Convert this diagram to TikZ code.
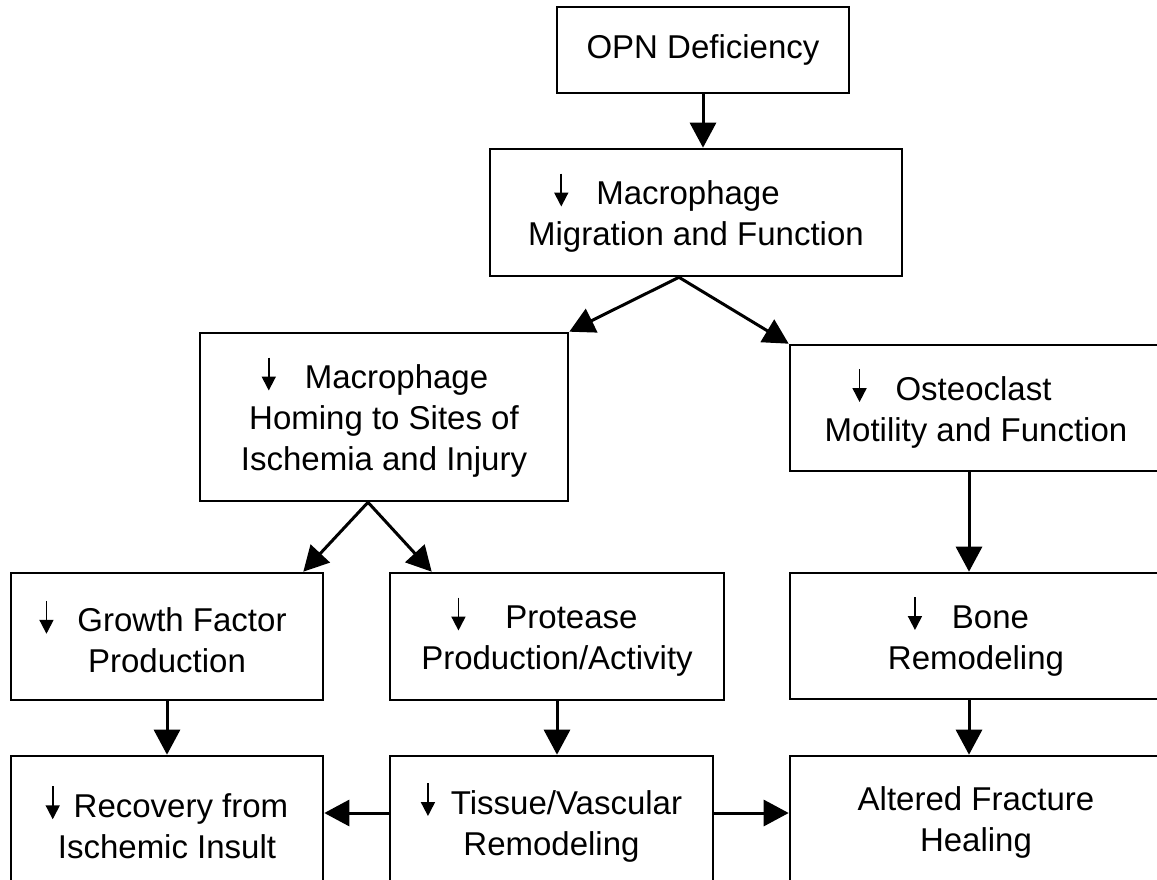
\documentclass[tikz,border=0pt]{standalone}
\usepackage{fontspec}
\setmainfont{Liberation Sans}
\usetikzlibrary{arrows.meta, positioning}
\tikzset{
	% flow chart styles
	box/.style ={rectangle, draw=black, line width=2.6pt, align=center, inner sep=0pt, font=\fontsize{33}{41}\selectfont},
	flow/.style={-{Triangle[length=25pt,width=26pt]}, line width=3pt},
}
\newcommand{\dnarr}{\tikz[baseline=0pt]\draw[line width=1.8pt,-{Triangle[length=14pt,width=14pt]}] (0pt,31pt) -- (0pt,-2pt);}

\begin{document}
\begin{tikzpicture}[x=1pt, y=-1pt]
		\useasboundingbox (0,0) rectangle (1157,879);
		\node[box, minimum width=292pt, minimum height=86pt]  (opn)   at (703,50)    {OPN Deficiency};
		\node[box, minimum width=412pt, minimum height=127pt] (migr)  at (696,212.5) {\dnarr\hspace{28pt}Macrophage\kern58pt\\Migration and Function};
		\node[box, minimum width=368pt, minimum height=168pt] (homing) at (384,417)  {\dnarr\hspace{29pt}Macrophage\kern18pt\\Homing to Sites of\\Ischemia and Injury};
		\node[box, minimum width=372pt, minimum height=126pt] (osteo) at (976,408)   {\dnarr\hspace{29pt}Osteoclast\kern48pt\\Motility and Function};
		\node[box, minimum width=312pt, minimum height=127pt] (growth) at (167,636.5) {\dnarr\hspace{24pt}Growth Factor\kern8pt\\Production};
		\node[box, minimum width=334pt, minimum height=127pt] (prot)  at (557,636.5) {\dnarr\hspace{40pt}Protease\kern25pt\\Production/Activity};
		\node[box, minimum width=372pt, minimum height=126pt] (bone)  at (976,636)   {\dnarr\hspace{30pt}Bone\kern15pt\\Remodeling};
		\node[box, minimum width=312pt, minimum height=132pt] (recov) at (167,822)   {\dnarr\hspace{14pt}Recovery from\\Ischemic Insult};
		\node[box, minimum width=323pt, minimum height=132pt] (tissue) at (551.5,822) {\dnarr\hspace{16pt}Tissue/Vascular\\Remodeling};
		\node[box, minimum width=372pt, minimum height=132pt] (heal)  at (976,822)   {Altered Fracture\\Healing};

		\draw[flow] (opn.south) -- (opn.south |- migr.north);
		\draw[flow] ([xshift=-17pt]migr.south) -- (homing.north east);
		\draw[flow] ([xshift=-17pt]migr.south) -- (osteo.north west);
		\draw[flow] ([xshift=-16pt]homing.south) -- ([xshift=-21pt]growth.north east);
		\draw[flow] ([xshift=-16pt]homing.south) -- ([xshift=43pt]prot.north west);
		\draw[flow] ([xshift=-7pt]osteo.south) -- ([xshift=-7pt]bone.north);
		\draw[flow] (growth.south) -- (recov.north);
		\draw[flow] (prot.south) -- (prot.south |- tissue.north);
		\draw[flow] ([xshift=-7pt]bone.south) -- ([xshift=-7pt]heal.north);
		\draw[flow] ([yshift=9pt]tissue.west) -- ([yshift=9pt]recov.east);
		\draw[flow] ([yshift=9pt]tissue.east) -- ([yshift=9pt]heal.west);
\end{tikzpicture}
\end{document}
